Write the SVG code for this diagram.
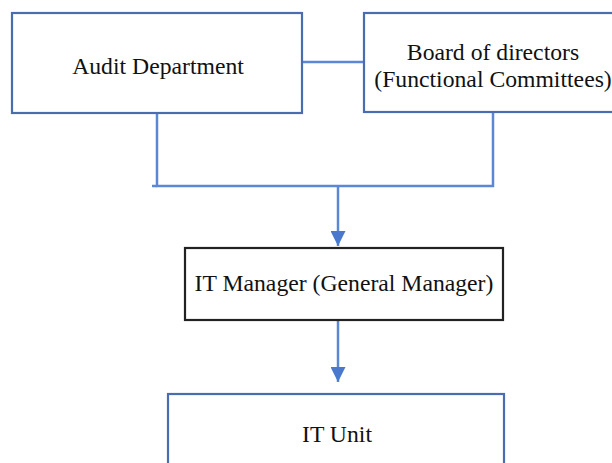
<svg xmlns="http://www.w3.org/2000/svg" width="612" height="463" viewBox="0 0 612 463">
<style>
.box{fill:#fff;stroke:#4A6DB0;stroke-width:2.2}
.dark{fill:#fff;stroke:#222;stroke-width:2.2}
.ln{stroke:#5B88D6;stroke-width:2.5;fill:none}
text{font-family:"Liberation Serif",serif;font-size:23.7px;fill:#111;text-anchor:middle}
</style>
<defs>
<marker id="ah" markerWidth="15" markerHeight="15" refX="15" refY="7.5" orient="auto" markerUnits="userSpaceOnUse" viewBox="0 0 15 15">
<path d="M0,0 L15,7.5 L0,15 Z" fill="#4A78CC"/>
</marker>
</defs>
<g id="connectors">
<line class="ln" x1="302" y1="62" x2="364" y2="62"/>
<polyline class="ln" points="157,113 157,186 493,186 493,112"/>
<line class="ln" x1="152" y1="186" x2="157" y2="186"/>
<line class="ln" x1="338" y1="186" x2="338" y2="246" marker-end="url(#ah)"/>
<line class="ln" x1="338" y1="320" x2="338" y2="382" marker-end="url(#ah)"/>
</g>
<g id="audit">
<rect class="box" x="12" y="13" width="290" height="100"/>
<text x="158" y="74">Audit Department</text>
</g>
<g id="board">
<rect class="box" x="364" y="13" width="260" height="99"/>
<text x="493" y="60">Board of directors</text>
<text x="493" y="87" font-size="23.5">(Functional Committees)</text>
</g>
<g id="itmanager">
<rect class="dark" x="185" y="248" width="318" height="72"/>
<text x="344" y="291">IT Manager (General Manager)</text>
</g>
<g id="itunit">
<rect class="box" x="168" y="394" width="336" height="80"/>
<text x="337" y="442">IT Unit</text>
</g>
</svg>
